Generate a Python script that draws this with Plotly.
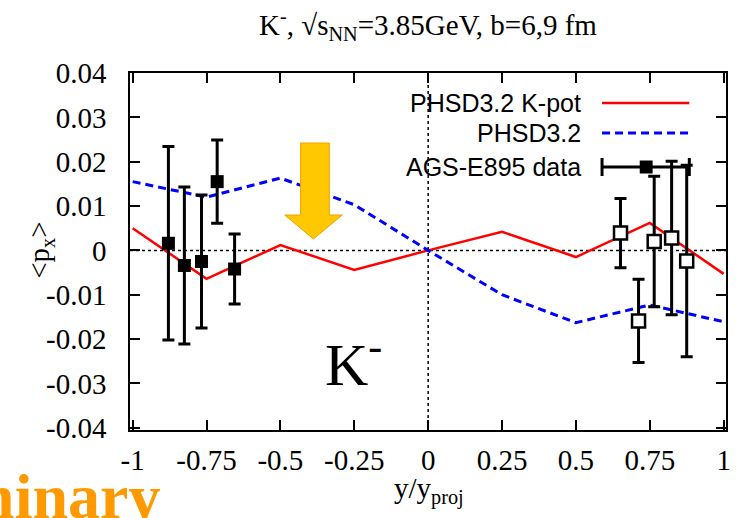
import plotly.graph_objects as go

# ---------------- data ----------------
y_grid = [-1.0, -0.75, -0.5, -0.25, 0.0, 0.25, 0.5, 0.75, 1.0]
px_kpot = [0.0050, -0.0064, 0.0012, -0.0044, 0.0, 0.0042, -0.0015, 0.0062, -0.0053]
px_nopot = [0.0155, 0.0120, 0.0163, 0.0103, 0.0, -0.0100, -0.0163, -0.0123, -0.0161]

data_x_filled = [-0.879, -0.825, -0.767, -0.714, -0.655]
data_y_filled = [0.0016, -0.0034, -0.0025, 0.0155, -0.0042]
data_err_filled = [0.0218, 0.0177, 0.0150, 0.0094, 0.0079]

data_x_open = [0.651, 0.712, 0.765, 0.824, 0.875]
data_y_open = [0.0039, -0.0159, 0.0020, 0.0028, -0.0024]
data_err_open = [0.0078, 0.0094, 0.0147, 0.0173, 0.0216]

x_ticks = [-1, -0.75, -0.5, -0.25, 0, 0.25, 0.5, 0.75, 1]
x_ticktext = ["-1", "-0.75", "-0.5", "-0.25", "0", "0.25", "0.5", "0.75", "1"]
y_ticks = [-0.04, -0.03, -0.02, -0.01, 0, 0.01, 0.02, 0.03, 0.04]
y_ticktext = ["-0.04", "-0.03", "-0.02", "-0.01", "0", "0.01", "0.02", "0.03", "0.04"]

legend_labels = ["PHSD3.2 K-pot", "PHSD3.2", "AGS-E895 data"]

# ---------------- figure ----------------
W, H = 740, 518
L, R, T, B = 130, 9, 73, 88
PW, PH = W - L - R, H - T - B

def pxx(p):  # pixel x -> paper
    return (p - L) / PW

def pxy(p):  # pixel y -> paper
    return (H - B - p) / PH

SERIF = "Liberation Serif, Times New Roman, serif"
SANS = "Liberation Sans, Arial, sans-serif"

fig = go.Figure()

fig.add_trace(go.Scatter(x=y_grid, y=px_kpot, mode="lines",
                         line=dict(color="#ff0000", width=2.5), showlegend=False))
fig.add_trace(go.Scatter(x=y_grid, y=px_nopot, mode="lines",
                         line=dict(color="#0000ff", width=3, dash="8px,5px"), showlegend=False))

err_style = dict(type="data", visible=True, color="black", thickness=3, width=6)

fig.add_trace(go.Scatter(x=data_x_filled, y=data_y_filled, mode="markers",
                         marker=dict(symbol="square", size=13, color="black"),
                         error_y=dict(array=data_err_filled, **err_style), showlegend=False))
fig.add_trace(go.Scatter(x=data_x_open, y=data_y_open, mode="markers",
                         marker=dict(symbol="square", size=13, color="white",
                                     line=dict(color="black", width=2.5)),
                         error_y=dict(array=data_err_open, **err_style), showlegend=False))

shapes = []
# dotted zero lines
shapes.append(dict(type="line", xref="paper", yref="y", x0=0, x1=1, y0=0, y1=0,
                   line=dict(color="black", width=1.5, dash="dot"), layer="below"))
shapes.append(dict(type="line", xref="x", yref="paper", x0=0, x1=0, y0=0, y1=1,
                   line=dict(color="black", width=1.5, dash="dot"), layer="below"))

# arrow (decoration) in pixel coordinates -> paper
arrow_px = [(302, 143), (331, 143), (331, 215), (344, 215), (315, 239), (286, 215), (302, 215)]
path = "M " + " L ".join(f"{pxx(a):.4f},{pxy(b):.4f}" for a, b in arrow_px) + " Z"
shapes.append(dict(type="path", xref="paper", yref="paper", path=path,
                   fillcolor="#ffc800", line=dict(color="#f5a000", width=1)))

# legend samples
lx0, lx1 = 606, 694
ly = [103, 133, 167]
shapes.append(dict(type="line", xref="paper", yref="paper", x0=pxx(lx0), x1=pxx(lx1),
                   y0=pxy(ly[0]), y1=pxy(ly[0]), line=dict(color="#ff0000", width=2.5)))
shapes.append(dict(type="line", xref="paper", yref="paper", x0=pxx(lx0), x1=pxx(lx1),
                   y0=pxy(ly[1]), y1=pxy(ly[1]), line=dict(color="#0000ff", width=3, dash="8px,5px")))
shapes.append(dict(type="line", xref="paper", yref="paper", x0=pxx(lx0), x1=pxx(lx1),
                   y0=pxy(ly[2]), y1=pxy(ly[2]), line=dict(color="black", width=3)))
for xe in (lx0, lx1):
    shapes.append(dict(type="line", xref="paper", yref="paper", x0=pxx(xe), x1=pxx(xe),
                       y0=pxy(ly[2] - 9), y1=pxy(ly[2] + 9), line=dict(color="black", width=3)))
shapes.append(dict(type="rect", xref="paper", yref="paper", x0=pxx(644), x1=pxx(657),
                   y0=pxy(ly[2] + 6.5), y1=pxy(ly[2] - 6.5), fillcolor="black",
                   line=dict(color="black", width=0)))

annotations = []
for lab, yy in zip(legend_labels, ly):
    annotations.append(dict(text=lab, xref="paper", yref="paper", x=pxx(587), y=pxy(yy),
                            xanchor="right", yanchor="middle", showarrow=False,
                            font=dict(family=SANS, size=25, color="black")))

# title
annotations.append(dict(text="K<sup>-</sup>, √s<sub>NN</sub>=3.85GeV, b=6,9 fm",
                        xref="paper", yref="paper", x=pxx(430), y=pxy(25),
                        xanchor="center", yanchor="middle", showarrow=False,
                        font=dict(family=SERIF, size=29, color="black")))
# axis titles
annotations.append(dict(text="y/y<sub>proj</sub>", xref="paper", yref="paper",
                        x=pxx(432), y=pxy(490), xanchor="center", yanchor="middle",
                        showarrow=False, font=dict(family=SERIF, size=29, color="black")))
annotations.append(dict(text="<p<sub>x</sub>>", xref="paper", yref="paper",
                        x=pxx(40), y=pxy(250), xanchor="center", yanchor="middle",
                        textangle=-90, showarrow=False,
                        font=dict(family=SERIF, size=29, color="black")))
# big K- label
annotations.append(dict(text="K<sup>-</sup>", xref="paper", yref="paper",
                        x=pxx(355), y=pxy(360), xanchor="center", yanchor="middle",
                        showarrow=False, font=dict(family=SERIF, size=60, color="black")))
# Preliminary watermark (partially outside the canvas, as in the reference)
annotations.append(dict(text="<b>Preliminary</b>", xref="paper", yref="paper",
                        x=pxx(162), y=pxy(496), xanchor="right", yanchor="middle",
                        showarrow=False, font=dict(family=SERIF, size=64, color="#ff9900")))

axis_common = dict(showline=True, linecolor="black", linewidth=1.5, mirror="ticks",
                   ticks="inside", ticklen=10, tickwidth=1.5, tickcolor="black",
                   showgrid=False, zeroline=False,
                   tickfont=dict(family=SERIF, size=29, color="black"))

fig.update_layout(
    width=W, height=H,
    margin=dict(l=L, r=R, t=T, b=B, pad=0),
    paper_bgcolor="white", plot_bgcolor="white",
    xaxis=dict(range=[-1.009, 1.008], tickmode="array", tickvals=x_ticks,
               ticktext=x_ticktext, ticklabelstandoff=3, **axis_common),
    yaxis=dict(range=[-0.0405, 0.04], tickmode="array", tickvals=y_ticks,
               ticktext=y_ticktext, ticklabelstandoff=16, **axis_common),
    shapes=shapes, annotations=annotations, showlegend=False,
)

fig.write_html("out.html")
